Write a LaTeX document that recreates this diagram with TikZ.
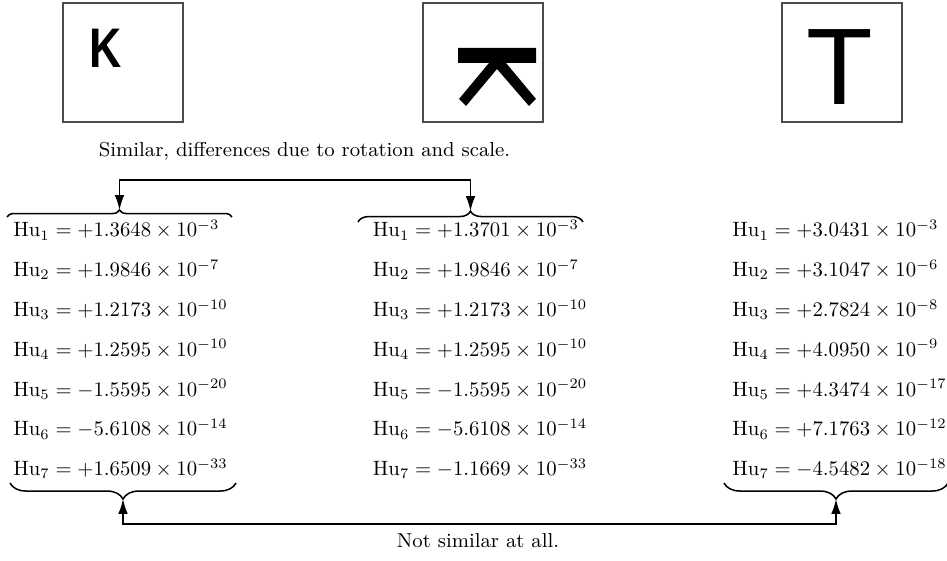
\documentclass[tikz,border=0pt]{standalone}
\usepackage{fontspec}
\usepackage{graphicx}
\newfontfamily\arialfont{Liberation Sans}
\usetikzlibrary{decorations.pathreplacing,arrows.meta}
\newcommand{\huval}[2]{\scalebox{0.955}{$\mathrm{Hu}_{#1}=#2$}}
\begin{document}
\begin{tikzpicture}[x=0.4608pt,y=-0.4608pt,
  imgbox/.style={draw=black!70, line width=0.7pt, minimum width=55.3pt, minimum height=54.8pt, inner sep=0pt},
  glyph/.style={inner sep=0pt},
  hu/.style={anchor=base west, inner sep=0pt, font=\fontsize{10}{12}\selectfont},
  caption/.style={anchor=base, inner sep=0pt, font=\fontsize{9.3}{11}\selectfont},
  conn/.style={line width=0.7pt, {Latex[length=6.8pt,width=4.4pt]}-{Latex[length=6.8pt,width=4.4pt]}},
  bracedec/.style={decorate, decoration={brace, amplitude=#1}, line width=0.7pt}]
\useasboundingbox (0,0) rectangle (947,561);

% image boxes
\node[imgbox] (img1) at (123,62.5) {};
\node[imgbox] (img2) at (483,62.5) {};
\node[imgbox] (img3) at (842,62.5) {};
\node[glyph] (k1) at (106,48) {\arialfont\bfseries\fontsize{25.7}{26}\selectfont\scalebox{0.8}[1]{K}};
\fill (458,48) -- (536,48) -- (536,63) -- (506,63) -- (536,99) -- (529,106) -- (497,69)
      -- (466,106) -- (459,99) -- (489,63) -- (458,63) -- cycle;
\node[glyph] (t3) at (839.5,67) {\arialfont\fontsize{50.2}{52}\selectfont T};

% captions
\node[caption] (cap1) at (304.5,157) {Similar, differences due to rotation and scale.};
\node[caption] (cap2) at (478,548) {Not similar at all.};

% values
\foreach \i/\v in {1/{+1.3648\times10^{-3}},2/{+1.9846\times10^{-7}},3/{+1.2173\times10^{-10}},4/{+1.2595\times10^{-10}},5/{-1.5595\times10^{-20}},6/{-5.6108\times10^{-14}},7/{+1.6509\times10^{-33}}}
  \node[hu] (a\i) at (13,{237+39.8*(\i-1)}) {\huval{\i}{\v}};
\foreach \i/\v in {1/{+1.3701\times10^{-3}},2/{+1.9846\times10^{-7}},3/{+1.2173\times10^{-10}},4/{+1.2595\times10^{-10}},5/{-1.5595\times10^{-20}},6/{-5.6108\times10^{-14}},7/{-1.1669\times10^{-33}}}
  \node[hu] (b\i) at (372.5,{237+39.8*(\i-1)}) {\huval{\i}{\v}};
\foreach \i/\v in {1/{+3.0431\times10^{-3}},2/{+3.1047\times10^{-6}},3/{+2.7824\times10^{-8}},4/{+4.0950\times10^{-9}},5/{+4.3474\times10^{-17}},6/{+7.1763\times10^{-12}},7/{-4.5482\times10^{-18}}}
  \node[hu] (c\i) at (732,{237+39.8*(\i-1)}) {\huval{\i}{\v}};

% braces
\coordinate (ba1L) at (7,217);   \coordinate (ba1R) at (232,217);
\coordinate (bb1L) at (358,222); \coordinate (bb1R) at (583,222);
\coordinate (ba7L) at (10,483);  \coordinate (ba7R) at (236,483);
\coordinate (bc7L) at (724,483); \coordinate (bc7R) at (948,483);
\draw[bracedec=3.2pt] (ba1L) -- (ba1R);
\draw[bracedec=5pt] (bb1L) -- (bb1R);
\draw[bracedec=7.4pt] (ba7R) -- (ba7L);
\draw[bracedec=7.4pt] (bc7R) -- (bc7L);

% brace tips
\coordinate (tipa1) at (119.5,210);
\coordinate (tipb1) at (470.5,211);
\coordinate (tipa7) at (123,499);
\coordinate (tipc7) at (836,499);
\coordinate (railtop) at (300,180);
\coordinate (railbot) at (480,524);

\draw[conn] (tipa1) |- (railtop) -| (tipb1);
\draw[conn] (tipa7) |- (railbot) -| (tipc7);
\end{tikzpicture}
\end{document}
